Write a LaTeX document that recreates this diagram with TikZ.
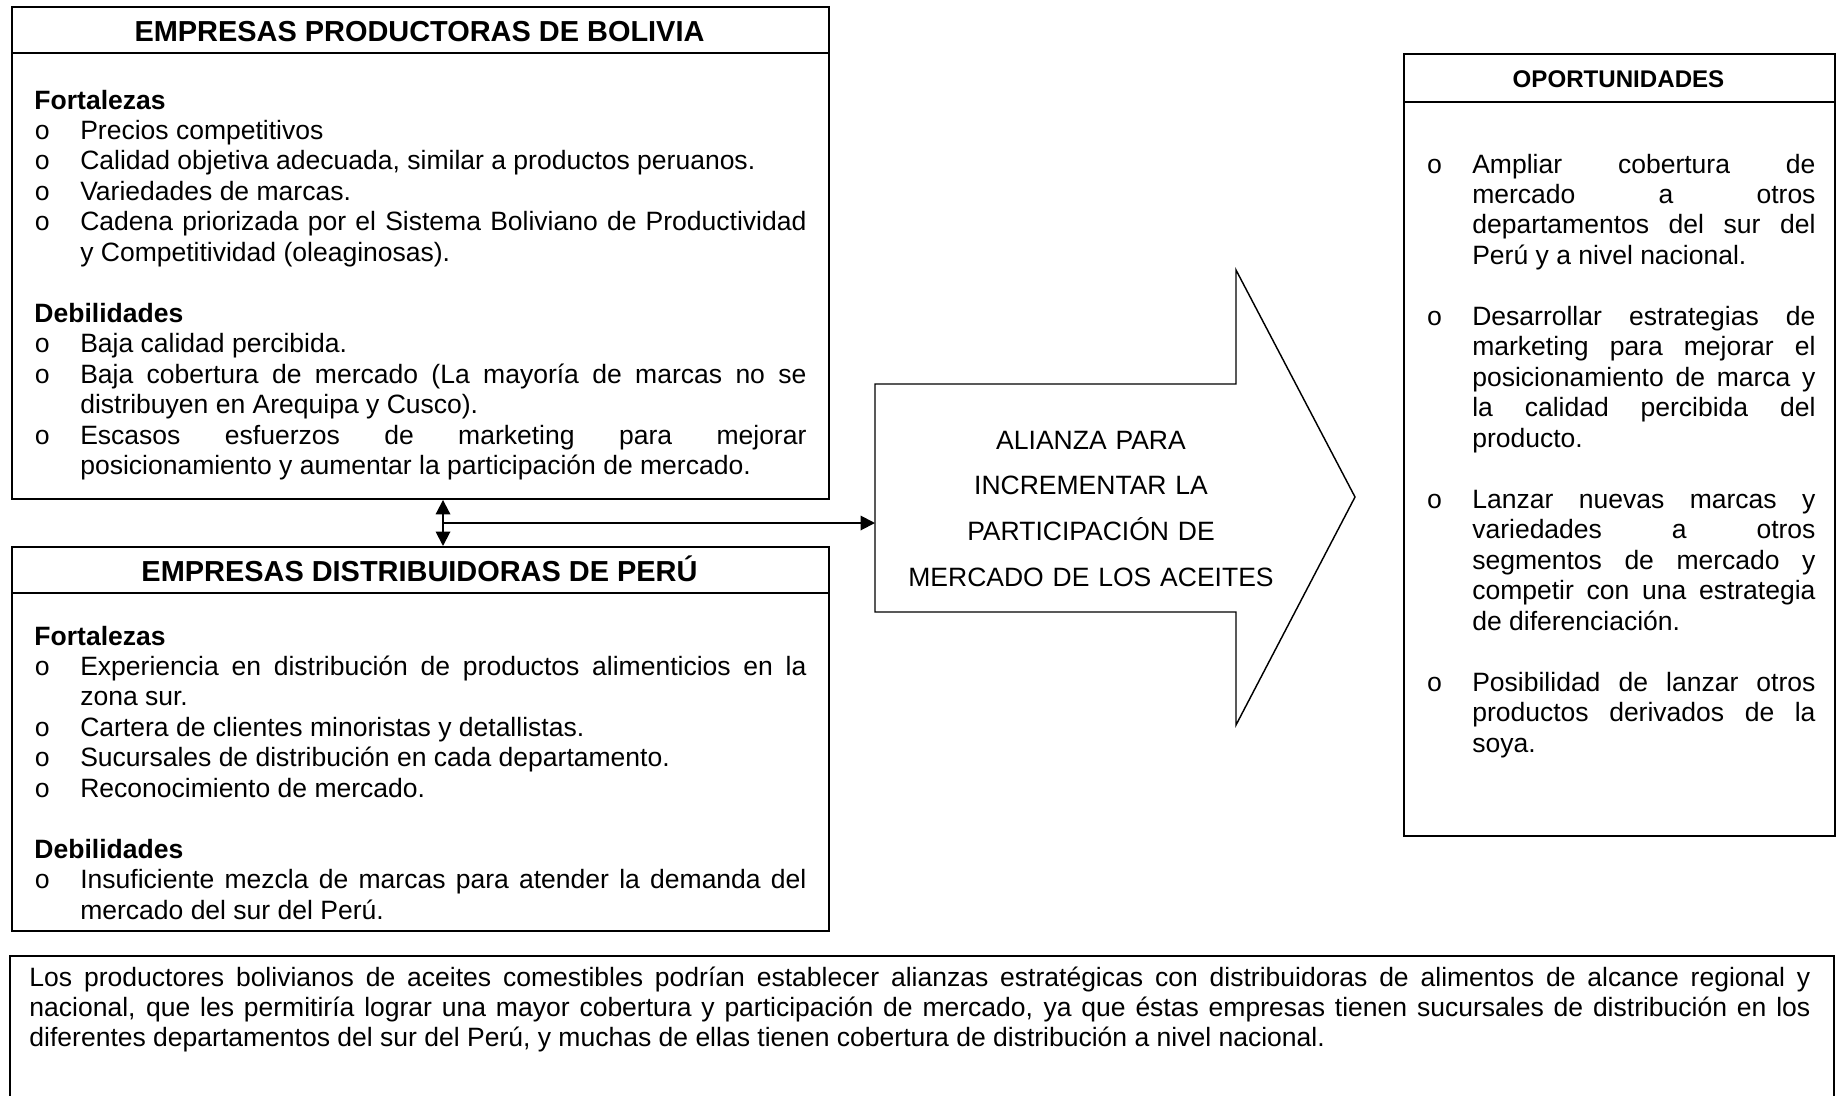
\documentclass[tikz,border=0pt]{standalone}
\usepackage{fontspec}
\setmainfont{Liberation Sans}
\newfontfamily\vinetafont{Liberation Mono}
\usetikzlibrary{arrows.meta}

\newlength{\pix}
\setlength{\pix}{0.4149pt}
\tolerance=10000
\hbadness=10000
\newcommand{\vineta}[1]{\hangindent=19pt\hangafter=1\noindent\makebox[19pt][l]{\vinetafont o}#1\par}

\tikzset{
	caja/.style={draw,thick,inner sep=0pt},
	titulo/.style={inner sep=0pt,font=\fontsize{12}{14}\selectfont\bfseries},
	texto/.style={inner sep=0pt,align=justify,font=\fontsize{11}{12.65}\selectfont},
	flecha/.style={thick,-{Triangle[length=6pt,width=6pt]}},
	flecha doble/.style={thick,{Triangle[length=6pt,width=6pt]}-{Triangle[length=6pt,width=6pt]}}
}

\begin{document}
\begin{tikzpicture}[x=\pix,y=-\pix]
			\useasboundingbox (0,0) rectangle (1836,1095);
			
			\node[caja,anchor=north west,minimum width=817\pix,minimum height=492\pix] (bolivia) at (11,6) {};
			\node[caja,anchor=north west,minimum width=817\pix,minimum height=384\pix] (peru) at (11,546) {};
			\node[caja,anchor=north west,minimum width=431\pix,minimum height=782\pix] (oportunidades) at (1403,53) {};
			\draw[thick] ([yshift=-47\pix]bolivia.north west) -- ([yshift=-47\pix]bolivia.north east);
			\draw[thick] ([yshift=-47\pix]peru.north west) -- ([yshift=-47\pix]peru.north east);
			\draw[thick] ([yshift=-49\pix]oportunidades.north west) -- ([yshift=-49\pix]oportunidades.north east);
			
			\node[titulo,anchor=base] (tbolivia) at (419.5,41) {EMPRESAS PRODUCTORAS DE BOLIVIA};
			\node[titulo,anchor=base] (tperu) at (419.5,581) {EMPRESAS DISTRIBUIDORAS DE PERÚ};
			\node[titulo,anchor=base,font=\fontsize{10}{12}\selectfont\bfseries] (toport) at (1618.5,87) {OPORTUNIDADES};
			
			\node[texto,anchor=base west,text width=772\pix] (cbolivia) at (34,109) {%
				\textbf{Fortalezas}\par
				\vineta{Precios competitivos}
				\vineta{Calidad objetiva adecuada, similar a productos peruanos.}
				\vineta{Variedades de marcas.}
				\vineta{Cadena priorizada por el Sistema Boliviano de Productividad\linebreak y Competitividad (oleaginosas).}
				\vspace{\baselineskip}
				\textbf{Debilidades}\par
				\vineta{Baja calidad percibida.}
				\vineta{Baja cobertura de mercado (La mayoría de marcas no se\linebreak distribuyen en Arequipa y Cusco).}
				\vineta{Escasos esfuerzos de marketing para mejorar\linebreak posicionamiento y aumentar la participación de mercado.}};
			
			\node[texto,anchor=base west,text width=772\pix] (cperu) at (34,645) {%
				\textbf{Fortalezas}\par
				\vineta{Experiencia en distribución de productos alimenticios en la\linebreak zona sur.}
				\vineta{Cartera de clientes minoristas y detallistas.}
				\vineta{Sucursales de distribución en cada departamento.}
				\vineta{Reconocimiento de mercado.}
				\vspace{\baselineskip}
				\textbf{Debilidades}\par
				\vineta{Insuficiente mezcla de marcas para atender la demanda del\linebreak mercado del sur del Perú.}};
			
			\node[texto,anchor=base west,text width=389\pix] (coport) at (1426,173) {%
				\vineta{Ampliar cobertura de\linebreak mercado a otros\linebreak departamentos del sur del\linebreak Perú y a nivel nacional.}
				\vspace{\baselineskip}
				\vineta{Desarrollar estrategias de\linebreak marketing para mejorar el\linebreak posicionamiento de marca y\linebreak la calidad percibida del\linebreak producto.}
				\vspace{\baselineskip}
				\vineta{Lanzar nuevas marcas y\linebreak variedades a otros\linebreak segmentos de mercado y\linebreak competir con una estrategia\linebreak de diferenciación.}
				\vspace{\baselineskip}
				\vineta{Posibilidad de lanzar otros\linebreak productos derivados de la\linebreak soya.}};
			
			% flecha de la alianza
			\coordinate (cuerpo) at (875,384);
			\draw[line width=0.6pt] (cuerpo) -- (1236,384) -- (1236,270) -- (1355,497) -- (1236,725) -- (1236,612) -- (875,612) -- cycle;
			\node[inner sep=0pt,anchor=base,text width=250pt,align=center,font=\fontsize{11}{18.98}\selectfont] (alianza) at (1091,449)
				{ALIANZA PARA\\INCREMENTAR LA\\PARTICIPACIÓN DE\\MERCADO DE LOS ACEITES};
			
			\coordinate (eje) at (443,523);
			\draw[flecha doble] (eje |- bolivia.south) -- (eje |- peru.north);
			\draw[flecha] (eje) -- (eje -| cuerpo);
			
			\coordinate (dNO) at (10,956);
			\coordinate (dNE) at (1834,956);
			\draw[thick] (10,1100) -- (dNO) -- (dNE) -- (1834,1100);
			\node[texto,anchor=base west,text width=1781\pix] (conclusion) at (29,986) {%
				Los productores bolivianos de aceites comestibles podrían establecer alianzas estratégicas con distribuidoras de alimentos de alcance regional y\linebreak nacional, que les permitiría lograr una mayor cobertura y participación de mercado, ya que éstas empresas tienen sucursales de distribución en los\linebreak diferentes departamentos del sur del Perú, y muchas de ellas tienen cobertura de distribución a nivel nacional.};
\end{tikzpicture}
\end{document}
